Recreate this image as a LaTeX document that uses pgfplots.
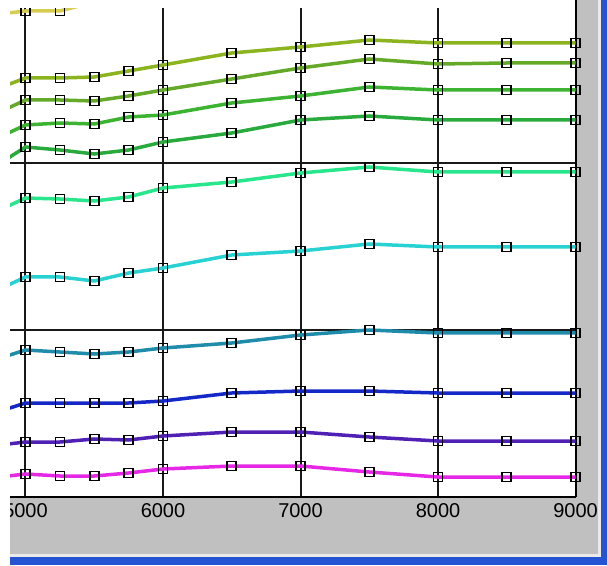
\documentclass[border=0pt]{standalone}
\usepackage{pgfplots}
\pgfplotsset{compat=1.18}
\usepackage{fontspec}
\setmainfont{Liberation Sans}
\definecolor{wingray}{RGB}{192,192,192}
\definecolor{winblue}{RGB}{36,84,212}
\definecolor{winlight}{RGB}{234,234,234}
\definecolor{c0}{RGB}{214,204,80}
\definecolor{c1}{RGB}{140,180,30}
\definecolor{c2}{RGB}{100,170,40}
\definecolor{c3}{RGB}{60,180,50}
\definecolor{c4}{RGB}{40,170,60}
\definecolor{c5}{RGB}{40,230,140}
\definecolor{c6}{RGB}{40,210,210}
\definecolor{c7}{RGB}{30,140,170}
\definecolor{c8}{RGB}{20,40,200}
\definecolor{c9}{RGB}{80,32,180}
\definecolor{c10}{RGB}{230,40,230}
\begin{document}
\begin{tikzpicture}
\useasboundingbox (0pt,0pt) rectangle (607pt,565pt);
\fill[wingray] (10pt,0pt) rectangle (607pt,565pt);
\begin{axis}[
  at={(10pt,68pt)}, anchor=south west,
  scale only axis, width=566pt, height=497pt,
  xmin=4887.3, xmax=9003.6, ymin=0, ymax=497,
  axis background/.style={fill=white},
  axis x line*=bottom, axis y line*=right,
  axis line style={black, line width=2pt, -},
  xtick={5000,6000,7000,8000,9000},
  ytick={167,334}, yticklabels={},
  major tick length=0pt,
  grid=major, major grid style={black!90, line width=2pt},
  xticklabel style={font=\fontsize{20}{24}\selectfont, yshift=-3pt},
  /pgf/number format/1000 sep={},
  /pgf/number format/assume math mode=true,
  every axis plot/.append style={line width=3.5pt, mark=square, mark size=4.5pt,
    mark options={draw=black, line width=1.6pt, solid}},
]
\addplot[c0] coordinates {(4750,482)(5000,486)(5250,486)(5500,495)(5750,503)(6000,511)(6500,523)(7000,529)(7500,537)(8000,533)(8500,533)(9000,533)};
\addplot[c1] coordinates {(4750,406)(5000,419)(5250,419)(5500,420)(5750,426)(6000,432)(6500,444)(7000,450)(7500,457)(8000,454)(8500,454)(9000,454)};
\addplot[c2] coordinates {(4750,381)(5000,397)(5250,397)(5500,396)(5750,401)(6000,407)(6500,418)(7000,429)(7500,438)(8000,433)(8500,434)(9000,434)};
\addplot[c3] coordinates {(4750,356)(5000,372)(5250,374)(5500,373)(5750,380)(6000,382)(6500,394)(7000,401)(7500,410)(8000,407)(8500,407)(9000,407)};
\addplot[c4] coordinates {(4750,328)(5000,350)(5250,347)(5500,343)(5750,347)(6000,355)(6500,364)(7000,377)(7500,381)(8000,377)(8500,377)(9000,377)};
\addplot[c5] coordinates {(4750,283)(5000,299)(5250,298)(5500,296)(5750,300)(6000,309)(6500,315)(7000,324)(7500,330)(8000,325)(8500,325)(9000,325)};
\addplot[c6] coordinates {(4750,204)(5000,220)(5250,220)(5500,216)(5750,224)(6000,229)(6500,242)(7000,246)(7500,253)(8000,250)(8500,250)(9000,250)};
\addplot[c7] coordinates {(4750,136)(5000,147)(5250,145)(5500,143)(5750,145)(6000,149)(6500,154)(7000,162)(7500,167)(8000,164)(8500,164)(9000,164)};
\addplot[c8] coordinates {(4750,83)(5000,94)(5250,94)(5500,94)(5750,94)(6000,96)(6500,104)(7000,106)(7500,106)(8000,104)(8500,104)(9000,104)};
\addplot[c9] coordinates {(4750,51)(5000,55)(5250,55)(5500,58)(5750,57)(6000,61)(6500,65)(7000,65)(7500,60)(8000,56)(8500,56)(9000,56)};
\addplot[c10] coordinates {(4750,19)(5000,23)(5250,21)(5500,21)(5750,24)(6000,28)(6500,31)(7000,31)(7500,25)(8000,20)(8500,20)(9000,20)};
\end{axis}
\fill[winlight] (10pt,8pt) rectangle (601pt,11pt);
\fill[winblue] (10pt,0pt) rectangle (607pt,8pt);
\fill[winlight] (598pt,8pt) rectangle (601pt,565pt);
\fill[winblue] (601pt,0pt) rectangle (607pt,565pt);
\fill[white] (0pt,0pt) rectangle (10pt,565pt);
\fill[white] (0pt,557pt) rectangle (574pt,565pt);
\end{tikzpicture}
\end{document}
